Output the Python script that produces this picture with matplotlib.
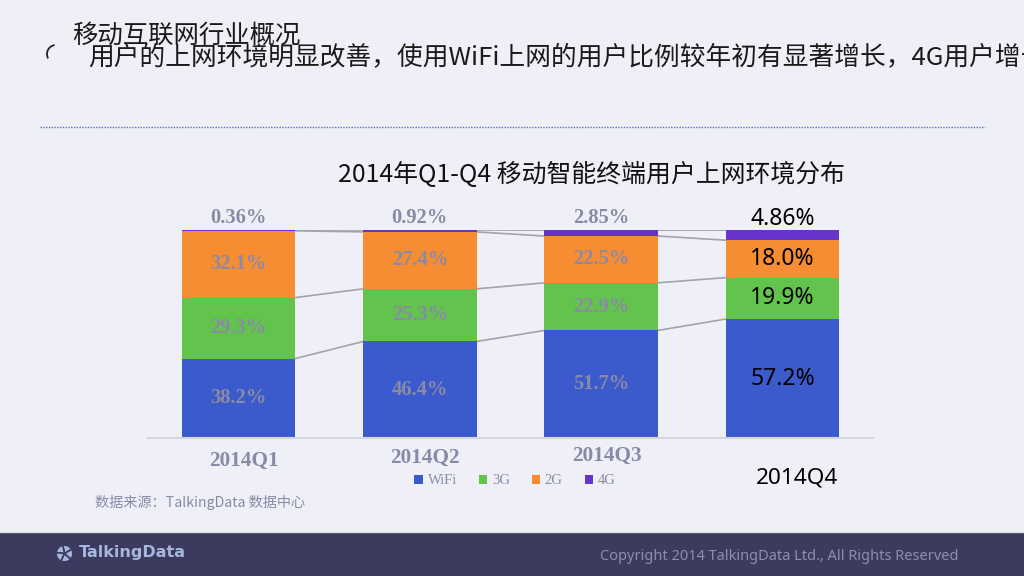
import numpy as np
import matplotlib
matplotlib.use("Agg")
import matplotlib.pyplot as plt
from matplotlib.patches import Rectangle, Arc
from matplotlib.lines import Line2D

quarters = ["2014Q1", "2014Q2", "2014Q3", "2014Q4"]
series = ["WiFi", "3G", "2G", "4G"]
wifi = [38.2, 46.4, 51.7, 57.2]
g3 = [29.3, 25.3, 22.9, 19.9]
g2 = [32.1, 27.4, 22.5, 18.0]
g4 = [0.36, 0.92, 2.85, 4.86]
wifi_lbl = ["38.2%", "46.4%", "51.7%", "57.2%"]
g3_lbl = ["29.3%", "25.3%", "22.9%", "19.9%"]
g2_lbl = ["32.1%", "27.4%", "22.5%", "18.0%"]
g4_lbl = ["0.36%", "0.92%", "2.85%", "4.86%"]
colors = ["#3b5bcc", "#62c44c", "#f78d33", "#6633cc"]

BG = "#eff0f7"
GRAY = "#8b8aa6"
CJK = ["Noto Sans CJK SC", "DejaVu Sans"]
W, H = 1024, 576

fig = plt.figure(figsize=(W / 100, H / 100), dpi=100, facecolor=BG)

def fx(px):
    return px / W

def fy(py):
    return 1 - py / H

# header
fig.text(fx(72), fy(36), "移动互联网行业概况", family=CJK, fontsize=18.3,
         color="#1a1a1a", va="center", ha="left")
fig.text(fx(88), fy(57), "用户的上网环境明显改善，使用WiFi上网的用户比例较年初有显著增长，4G用户增长",
         family=CJK, fontsize=18.5, color="#1a1a1a", va="center", ha="left")
fig.add_artist(Arc((fx(56), fy(54)), fx(18), 18 / H, theta1=95, theta2=225,
                   transform=fig.transFigure, color="#222222", lw=1.3))
fig.add_artist(Line2D([fx(40), fx(985)], [fy(127), fy(127)], transform=fig.transFigure,
                      color="#5a6fd0", lw=1.0, ls=(0, (1, 1))))

# chart title
fig.text(fx(592), fy(175), "2014年Q1-Q4 移动智能终端用户上网环境分布", family=CJK,
         fontsize=17.9, color="#111111", ha="center", va="center")

# bars
ax = fig.add_axes([fx(148), fy(438), fx(873) - fx(148), 208 / H])
ax.set_facecolor("none")
x = np.arange(len(quarters))
width = 0.625
stack = [wifi, g3, g2, g4]
labels = [wifi_lbl, g3_lbl, g2_lbl, g4_lbl]
bottom = np.zeros(len(quarters))
tops = []
for vals, col, name in zip(stack, colors, series):
    vals = np.array(vals)
    ax.bar(x, vals, width, bottom=bottom, color=col, label=name, zorder=2)
    tops.append(bottom + vals)
    bottom = bottom + vals

# connector lines between neighbouring bars
for top in tops:
    for i in range(len(quarters) - 1):
        ax.plot([x[i] + width / 2, x[i + 1] - width / 2], [top[i], top[i + 1]],
                color="#a3a3aa", lw=1.2, zorder=1)

# segment labels
for k in range(3):
    base = np.zeros(len(quarters)) if k == 0 else tops[k - 1]
    for i in range(len(quarters)):
        yc = base[i] + stack[k][i] / 2
        if i < 3:
            ax.text(x[i], yc, labels[k][i], ha="center", va="center", fontsize=14.8,
                    family="Liberation Serif", weight="bold", color=GRAY, zorder=3)
        else:
            ax.text(x[i], yc, labels[k][i], ha="center", va="center", fontsize=16.5,
                    family="Noto Sans", color="#000000", zorder=3)
for i in range(len(quarters)):
    if i < 3:
        ax.text(x[i], tops[3][i] + 0.8, g4_lbl[i], ha="center", va="bottom", fontsize=14.8,
                family="Liberation Serif", weight="bold", color=GRAY)
    else:
        ax.text(x[i], tops[3][i] - 0.5, g4_lbl[i], ha="center", va="bottom", fontsize=16.5,
                family="Noto Sans", color="#000000")

# category labels
for i, q in enumerate(quarters):
    if i < 3:
        ax.text(x[i] + 0.03, -0.108 + 0.012 * i, q, transform=ax.get_xaxis_transform(), ha="center",
                va="center", fontsize=15.3, family="Liberation Serif", weight="bold", color=GRAY)
    else:
        ax.text(x[i] + 0.08, -0.19, q, transform=ax.get_xaxis_transform(), ha="center",
                va="center", fontsize=16.3, family="Noto Sans", color="#000000")

ax.set_xlim(-0.5, 3.5)
ax.set_ylim(0, 100)
ax.set_xticks([])
ax.set_yticks([])
for s in ["top", "left", "right"]:
    ax.spines[s].set_visible(False)
ax.spines["bottom"].set_color("#d6d6de")
ax.spines["bottom"].set_linewidth(1.5)

leg = ax.legend(loc="center", bbox_to_anchor=(fx(515), fy(481)), bbox_transform=fig.transFigure,
                ncol=4, frameon=False, handlelength=0.6, handleheight=0.6, handletextpad=0.3,
                columnspacing=1.5, prop={"family": "Liberation Serif", "size": 10.5})
for t in leg.get_texts():
    t.set_color(GRAY)

fig.text(fx(95), fy(502), "数据来源：TalkingData 数据中心", family=CJK, fontsize=10.2,
         color=GRAY, va="center", ha="left")

# footer
fig.add_artist(Rectangle((0, 0), 1, 43 / H, transform=fig.transFigure, color="#3c3a5e", zorder=0))
fig.add_artist(Line2D([0, 1], [fy(532), fy(532)], transform=fig.transFigure, color="#dcdce8", lw=1))
icon = fig.add_axes([fx(54), fy(564), fx(21), 21 / H])
icon.pie([1, 1, 1, 1, 1], colors=["#a6b6de"] * 5, startangle=30,
         wedgeprops={"edgecolor": "#3c3a5e", "linewidth": 1.2})
icon.set_aspect("equal")
fig.text(fx(79), fy(553), "TalkingData", fontsize=11.5, weight="bold",
         family="DejaVu Sans", color="#a6b6de", va="center", ha="left")
fig.text(fx(958), fy(557), "Copyright 2014 TalkingData Ltd., All Rights Reserved", family="Noto Sans",
         fontsize=10.5, color="#8e8eab", va="center", ha="right")

fig.savefig("out.png", dpi=100, facecolor=BG)
